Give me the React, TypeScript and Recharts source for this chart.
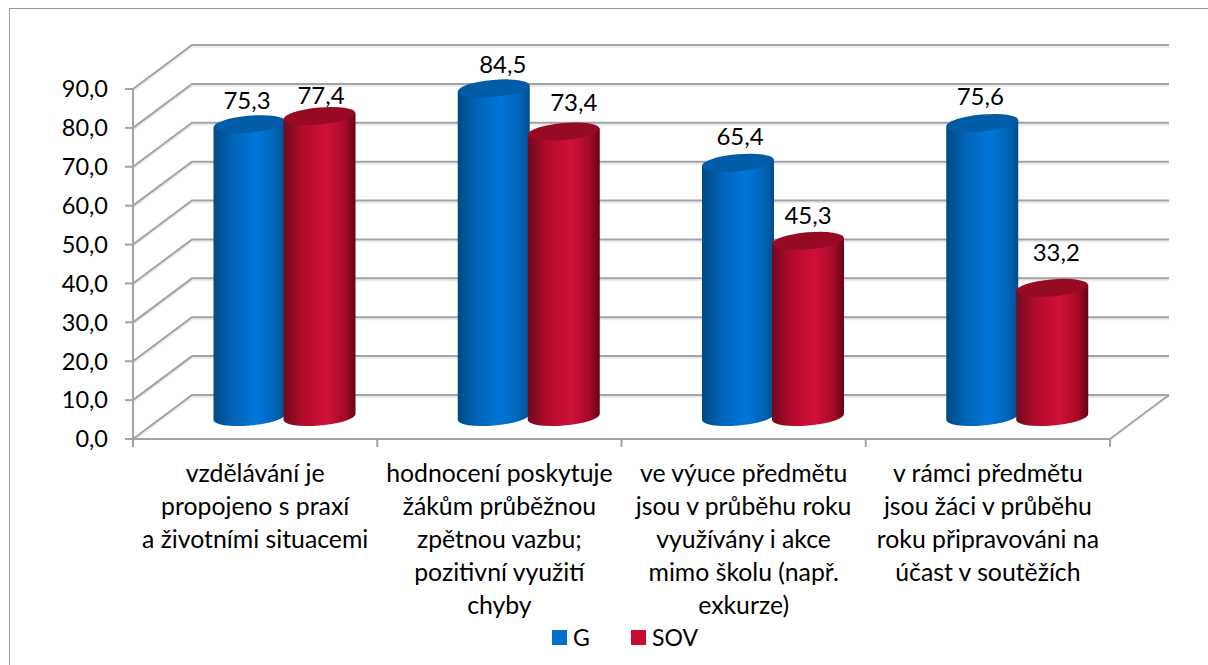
import { BarChart, Bar, XAxis, YAxis, CartesianGrid, Legend } from 'recharts';

const categories = [
  'vzdělávání je\npropojeno s praxí\na životními situacemi',
  'hodnocení poskytuje\nžákům průběžnou\nzpětnou vazbu;\npozitivní využití\nchyby',
  've výuce předmětu\njsou v průběhu roku\nvyužívány i akce\nmimo školu (např.\nexkurze)',
  'v rámci předmětu\njsou žáci v průběhu\nroku připravováni na\núčast v soutěžích',
];
const seriesG = [75.3, 84.5, 65.4, 75.6];
const seriesSOV = [77.4, 73.4, 45.3, 33.2];
const yTicks = [0, 10, 20, 30, 40, 50, 60, 70, 80, 90];

const data = categories.map((name, i) => ({ name, G: seriesG[i], SOV: seriesSOV[i] }));

const FONT = 'Lato, Carlito, sans-serif';
const LINE = '#a3a3a3';
// offset of the back wall from the front plane
const WALL_X = 59;
const WALL_Y = -44;
// the cylinders stand halfway into the floor
const MID_X = WALL_X / 2;
const MID_Y = WALL_Y / 2;

// data labels were moved by hand in the original
const nudgeG = [[-2.5, -1], [9, -1], [2, -3], [-2, -4]];
const nudgeSOV = [[1.5, 2], [10, -6], [0, -2], [4, -12]];

const fmt = (v: number) => v.toFixed(1).replace('.', ',');

function GridLine(props: any) {
  const { x1, x2, y1, index } = props;
  const isFloor = y1 > 420;
  const d = `M${x1} ${y1}L${x1 + WALL_X} ${y1 + WALL_Y}L${x2 + WALL_X} ${y1 + WALL_Y}`;
  return (
    <g key={`wall-${index}`} fill="none" strokeWidth={2}>
      <path d={d} stroke="#ececec" transform="translate(0 2)" />
      <path d={d} stroke={LINE} />
      {isFloor && <path d={`M${x2} ${y1}L${x2 + WALL_X} ${y1 + WALL_Y}`} stroke={LINE} />}
    </g>
  );
}

function Cylinder(props: any) {
  const { x, y, width, height, gradient, topColor } = props;
  const rx = width / 2;
  const ry = 8.5;
  const left = x + MID_X;
  const right = left + width;
  const cx = left + rx;
  const top = y + MID_Y;
  const bottom = y + height + MID_Y;
  const tilt = 3;
  return (
    <g>
      <path
        d={`M${left} ${top + tilt}L${left} ${bottom + tilt}A${rx} ${ry} -5 0 0 ${right} ${bottom - tilt}L${right} ${top - tilt}Z`}
        fill={`url(#${gradient})`}
      />
      <ellipse cx={cx} cy={top} rx={rx} ry={ry} fill={topColor} transform={`rotate(-5 ${cx} ${top})`} />
    </g>
  );
}

function makeLabel(nudge: number[][]) {
  return function ValueLabel(props: any) {
    const { x, y, width, value, index } = props;
    const [dx, dy] = nudge[index];
    return (
      <text
        x={x + MID_X + width / 2 + dx}
        y={y + MID_Y - 24 + dy}
        textAnchor="middle"
        dominantBaseline="central"
        fontFamily={FONT}
        fontSize={24}
        fill="#000"
      >
        {fmt(value)}
      </text>
    );
  };
}

function CategoryTick(props: any) {
  const { x, y, width, index, payload } = props;
  const lines = String(payload.value).split('\n');
  const band = width / categories.length;
  const axisY = y - 9; // tick size + default tick margin
  return (
    <g>
      {/* tick marks sit between the categories, not under them */}
      <line x1={x - band / 2} x2={x - band / 2} y1={axisY} y2={axisY + 8} stroke={LINE} strokeWidth={2} />
      {index === categories.length - 1 && (
        <line x1={x + band / 2} x2={x + band / 2} y1={axisY} y2={axisY + 8} stroke={LINE} strokeWidth={2} />
      )}
      <text x={x} y={y} textAnchor="middle" fontFamily={FONT} fontSize={24.8} fill="#000">
        {lines.map((line, i) => (
          <tspan key={i} x={x} dy={i === 0 ? 34 : 33}>
            {line}
          </tspan>
        ))}
      </text>
    </g>
  );
}

function ChartLegend(props: any) {
  const { payload } = props;
  return (
    <div style={{ position: 'relative', height: 30, fontFamily: FONT, fontSize: 23, color: '#000' }}>
      {(payload || []).map((item: any, i: number) => (
        <div key={item.value} style={{ position: 'absolute', left: i === 0 ? 0 : 79, top: 0, display: 'flex', alignItems: 'center', height: 30 }}>
          <span style={{ width: 15, height: 15, background: item.color, marginRight: 6, display: 'inline-block' }} />
          {item.value}
        </div>
      ))}
    </div>
  );
}

export default function App() {
  return (
    <div style={{ position: 'absolute', left: 0, top: 0, width: 1208, height: 665, overflow: 'hidden', background: '#fff' }}>
      <div style={{ position: 'absolute', left: 9, top: 8, width: 1300, height: 800, border: '1px solid #999', boxShadow: '1px 1px 0 #ddd' }} />
      <BarChart
        width={1208}
        height={665}
        data={data}
        barSize={72}
        barGap={-2}
        margin={{ top: 89, right: 98, bottom: 0, left: 0 }}
        style={{ position: 'absolute', left: 0, top: 0 }}
      >
        <defs>
          <linearGradient id="blueSide" x1="0" y1="0" x2="1" y2="0">
            <stop offset="0" stopColor="#004a86" />
            <stop offset="0.3" stopColor="#0066bb" />
            <stop offset="0.6" stopColor="#0076da" />
            <stop offset="0.85" stopColor="#0065b8" />
            <stop offset="1" stopColor="#004f8e" />
          </linearGradient>
          <linearGradient id="redSide" x1="0" y1="0" x2="1" y2="0">
            <stop offset="0" stopColor="#6d0a1e" />
            <stop offset="0.25" stopColor="#b00a2b" />
            <stop offset="0.6" stopColor="#cf1037" />
            <stop offset="0.85" stopColor="#a80a29" />
            <stop offset="1" stopColor="#660517" />
          </linearGradient>
        </defs>
        <CartesianGrid vertical={false} horizontal={GridLine} />
        <XAxis
          dataKey="name"
          interval={0}
          tick={CategoryTick}
          tickLine={false}
          axisLine={{ stroke: LINE, strokeWidth: 2 }}
          tickSize={7}
          height={196}
        />
        <YAxis
          domain={[0, 90]}
          ticks={yTicks}
          interval={0}
          width={133}
          tickFormatter={fmt}
          tick={{ fontFamily: FONT, fontSize: 23.5, fill: '#000' }}
          tickLine={{ stroke: LINE, strokeWidth: 2 }}
          axisLine={{ stroke: LINE, strokeWidth: 2 }}
          tickSize={8}
          tickMargin={17}
        />
        <Legend
          content={ChartLegend}
          wrapperStyle={{ left: 552, top: 622, width: 160, height: 30 }}
        />
        <Bar
          dataKey="G"
          name="G"
          fill="#0070cc"
          isAnimationActive={false}
          shape={(p: any) => <Cylinder {...p} gradient="blueSide" topColor="#005ca6" />}
          label={makeLabel(nudgeG)}
        />
        <Bar
          dataKey="SOV"
          name="SOV"
          fill="#c60c30"
          isAnimationActive={false}
          shape={(p: any) => <Cylinder {...p} gradient="redSide" topColor="#960a24" />}
          label={makeLabel(nudgeSOV)}
        />
      </BarChart>
    </div>
  );
}
